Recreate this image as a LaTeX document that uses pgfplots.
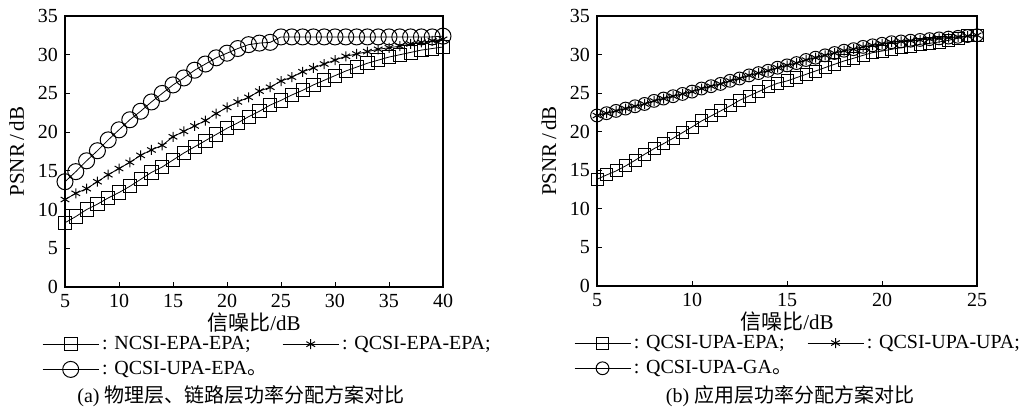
\documentclass[border=0pt]{standalone}
\usepackage{fontspec}
\setmainfont{Liberation Serif}
\newfontfamily\cjk{Noto Sans CJK SC}
\usepackage{pgfplots}
\pgfplotsset{compat=1.18}

\pgfplotstableread{
x sq st ci
5 8.3 11.3 13.6
6 9.1 12.1 14.9
7 10.0 12.7 16.3
8 10.7 13.6 17.6
9 11.5 14.5 19.0
10 12.2 15.3 20.3
11 13.0 16.1 21.6
12 13.9 17.0 22.7
13 14.8 17.7 23.9
14 15.5 18.3 25.0
15 16.4 19.4 26.1
16 17.3 20.1 27.0
17 18.1 20.8 28.0
18 18.9 21.5 28.8
19 19.7 22.4 29.6
20 20.5 23.2 30.2
21 21.2 23.9 30.8
22 22.0 24.5 31.3
23 22.7 25.3 31.5
24 23.5 25.8 31.6
25 24.1 26.6 32.3
26 24.8 27.1 32.3
27 25.4 27.8 32.3
28 26.1 28.3 32.3
29 26.7 28.8 32.3
30 27.3 29.3 32.3
31 27.9 29.8 32.3
32 28.4 30.1 32.3
33 28.9 30.4 32.3
34 29.3 30.7 32.3
35 29.7 30.9 32.3
36 30.0 31.1 32.3
37 30.3 31.4 32.3
38 30.6 31.6 32.3
39 30.8 31.8 32.3
40 31.0 32.0 32.4
}\tableA

\pgfplotstableread{
x sq st ci
5 13.83 22.1 22.1
5.5 14.39 22.4 22.4
6 14.91 22.7 22.7
6.5 15.56 23.0 23.0
7 16.29 23.3 23.3
7.5 17.07 23.6 23.6
8 17.80 24.0 24.0
8.5 18.45 24.3 24.3
9 19.14 24.6 24.6
9.5 19.88 24.9 24.9
10 20.61 25.2 25.2
10.5 21.39 25.6 25.6
11 22.04 25.9 25.9
11.5 22.69 26.2 26.2
12 23.34 26.6 26.6
12.5 24.07 26.9 26.9
13 24.63 27.3 27.3
13.5 25.19 27.6 27.6
14 25.80 27.9 27.9
14.5 26.28 28.3 28.3
15 26.58 28.6 28.6
15.5 27.01 28.9 28.9
16 27.44 29.3 29.3
16.5 27.87 29.6 29.6
17 28.31 29.9 29.9
17.5 28.74 30.2 30.2
18 29.17 30.5 30.5
18.5 29.52 30.7 30.7
19 29.90 31.0 31.0
19.5 30.25 31.2 31.2
20 30.46 31.4 31.4
20.5 30.68 31.6 31.6
21 30.90 31.7 31.7
21.5 31.11 31.8 31.8
22 31.33 31.9 31.9
22.5 31.46 32.0 32.0
23 31.63 32.1 32.1
23.5 31.85 32.2 32.2
24 32.11 32.3 32.3
24.5 32.41 32.4 32.4
25 32.50 32.5 32.5
}\tableB

\pgfplotsset{myax/.style={
  scale only axis, width=189pt, height=135.5pt,
  ymin=0, ymax=35, ytick={0,5,...,35},
  axis line style={line width=0.8pt},
  tick align=inside, xtick pos=left, ytick pos=left, major tick length=2.5pt,
  tick style={line width=0.5pt, black},
  /pgf/number format/assume math mode=true,
  tick label style={font=\fontsize{10}{11}\selectfont},
  label style={font=\fontsize{10.5}{12}\selectfont},
  xlabel={{\cjk 信噪比}/dB}, ylabel={PSNR\,/\,dB},
  xlabel style={yshift=4pt},
  legend style={draw=none, fill=none, font=\fontsize{10}{11}\selectfont,
    legend cell align=left, column sep=0pt, row sep=0.5pt,
    nodes={inner xsep=1.5pt},
    /tikz/every even column/.append style={column sep=6pt},
    at={(-0.077,-0.15)}, anchor=north west},
  legend columns=2,
  legend image code/.code={\draw[mark repeat=2,mark phase=2,#1] plot coordinates {(0pt,0pt)(14pt,0pt)(28pt,0pt)};},
  every axis plot/.append style={black, line width=0.4pt, mark options={solid, line width=0.5pt}},
}}

\begin{document}
\begin{tikzpicture}
\path[use as bounding box] (0,0) rectangle (511.5pt,204.5pt);
\begin{axis}[myax, at={(32.5pt,61pt)}, anchor=south west,
  xmin=5, xmax=40, xtick={5,10,...,40}]
\addplot[mark=square, mark size=3.3pt] table[x=x,y=sq]{\tableA};
\addlegendentry{: NCSI-EPA-EPA;}
\addplot[mark=asterisk, mark size=2.5pt] table[x=x,y=st]{\tableA};
\addlegendentry{: QCSI-EPA-EPA;}
\addplot[mark=o, mark size=4pt] table[x=x,y=ci]{\tableA};
\addlegendentry{: QCSI-UPA-EPA{\cjk 。}}
\end{axis}
\begin{axis}[myax, at={(298.5pt,61.5pt)}, anchor=south west, width=190pt, height=135pt,
  xmin=5, xmax=25, xtick={5,10,...,25}]
\addplot[mark=square, mark size=3pt] table[x=x,y=sq]{\tableB};
\addlegendentry{: QCSI-UPA-EPA;}
\addplot[mark=asterisk, mark size=2.5pt] table[x=x,y=st]{\tableB};
\addlegendentry{: QCSI-UPA-UPA;}
\addplot[mark=o, mark size=3.2pt] table[x=x,y=ci]{\tableB};
\addlegendentry{: QCSI-UPA-GA{\cjk 。}}
\end{axis}
\node[font=\fontsize{10}{12}\selectfont] at (120.5pt,6.5pt) {(a) {\cjk 物理层、链路层功率分配方案对比}};
\node[font=\fontsize{10}{12}\selectfont] at (395pt,6.5pt) {(b) {\cjk 应用层功率分配方案对比}};
\end{tikzpicture}
\end{document}
